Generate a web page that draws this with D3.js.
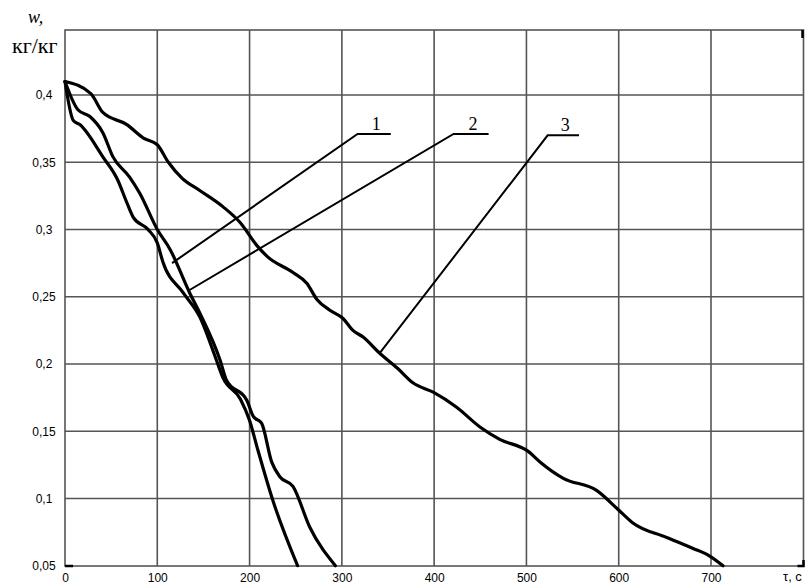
<!DOCTYPE html>
<html>
<head>
<meta charset="utf-8">
<script src="https://cdn.jsdelivr.net/npm/d3@7"></script>
<style>
  html, body { margin: 0; padding: 0; background: #fff; }
  svg { display: block; }
</style>
</head>
<body>
<svg id="chart" width="810" height="584"></svg>
<script>
// ---- data ----
const curve1 = [[0,0.41],[9,0.381],[16,0.378],[41,0.354],[57,0.337],[67,0.320],[74,0.309],[90,0.300],[100,0.290],[106,0.276],[128,0.253],[146,0.235],[164,0.203],[171,0.190],[190,0.174],[200,0.158],[209,0.136],[225,0.099],[252,0.05]];
const curve2 = [[0,0.41],[14,0.389],[27,0.384],[41,0.372],[52,0.354],[70,0.339],[81,0.327],[100,0.300],[114,0.285],[135,0.253],[146,0.238],[168,0.203],[175,0.188],[197,0.173],[204,0.161],[213,0.156],[224,0.127],[233,0.116],[247,0.109],[265,0.079],[293,0.05]];
const curve3 = [[0,0.41],[28,0.401],[41,0.387],[67,0.378],[85,0.368],[100,0.363],[112,0.350],[127,0.338],[146,0.329],[171,0.317],[190,0.305],[208,0.288],[219,0.280],[247,0.268],[262,0.260],[273,0.248],[287,0.240],[301,0.234],[312,0.225],[323,0.220],[341,0.208],[360,0.197],[377,0.186],[399,0.179],[424,0.168],[450,0.153],[471,0.144],[502,0.135],[515,0.127],[540,0.115],[576,0.106],[599,0.092],[615,0.082],[652,0.071],[680,0.063],[699,0.057],[713,0.05]];
const xTicks = [0,100,200,300,400,500,600,700];
const yTicks = [0.05,0.1,0.15,0.2,0.25,0.3,0.35,0.4];
const yTickLabels = ["0,05","0,1","0,15","0,2","0,25","0,3","0,35","0,4"];
const xLabel = "τ, с";
const yLabelTop = "w,";
const yLabelUnit = "кг/кг";
// curve labels: name, label anchor (t,w), shelf end t, point on curve (t,w)
const curveLabels = [
  {name:"1", t0:317, t1:353, w:0.371, pt:116, pw:0.275},
  {name:"2", t0:421, t1:459, w:0.371, pt:135, pw:0.255},
  {name:"3", t0:523, t1:557, w:0.370, pt:341, pw:0.208}
];

// ---- layout ----
const svg = d3.select("#chart");
const pL = 65, pR = 803.5, pT = 30, pB = 566;
const x = d3.scaleLinear().domain([0, 700]).range([65, 711]);
const y = d3.scaleLinear().domain([0.05, 0.4]).range([565.7, 95]);

// grid
const grid = svg.append("g").attr("stroke", "#555").attr("stroke-width", 1.6);
grid.selectAll("line.v").data(xTicks.slice(1)).join("line").attr("class", "v")
  .attr("x1", d => x(d)).attr("x2", d => x(d))
  .attr("y1", pT).attr("y2", pB);
grid.selectAll("line.h").data(yTicks.slice(1)).join("line").attr("class", "h")
  .attr("x1", pL).attr("x2", pR)
  .attr("y1", d => y(d)).attr("y2", d => y(d));
// frame
svg.append("rect").attr("x", pL).attr("y", pT)
  .attr("width", pR - pL).attr("height", pB - pT)
  .attr("fill", "none").attr("stroke", "#555").attr("stroke-width", 1.6);

// small corner marks
const marks = svg.append("g").attr("stroke", "#000").attr("stroke-width", 2.5).attr("fill", "none");
marks.append("line").attr("x1", pL).attr("x2", pL + 8).attr("y1", pB).attr("y2", pB);
marks.append("path").attr("d", `M${pR-6},${pB} H${pR} V${pB-6}`);
marks.append("line").attr("x1", pR - 1).attr("x2", pR - 1).attr("y1", pT).attr("y2", pT + 8);

// axes labels via d3 axes (no lines)
const ax = svg.append("g").attr("transform", `translate(0,${pB})`)
  .call(d3.axisBottom(x).tickValues(xTicks).tickSize(0).tickPadding(0).tickFormat(d3.format("d")));
const ay = svg.append("g").attr("transform", `translate(${pL},0)`)
  .call(d3.axisLeft(y).tickValues(yTicks).tickSize(0).tickPadding(0).tickFormat((d, i) => yTickLabels[i]));
[ax, ay].forEach(a => {
  a.select(".domain").remove();
  a.selectAll("text").attr("font-family", "Liberation Sans, Arial, sans-serif")
    .attr("font-size", 12).attr("fill", "#000");
});
ax.selectAll("text").attr("y", 16).attr("dy", null);
ay.selectAll("text").attr("x", -21).attr("text-anchor", "middle");

svg.append("text").attr("x", 783).attr("y", 581)
  .attr("font-family", "Liberation Sans, Arial, sans-serif").attr("font-size", 13)
  .attr("fill", "#000").text(xLabel);

svg.append("text").attr("x", 28).attr("y", 23)
  .attr("font-family", "Liberation Serif, Times New Roman, serif").attr("font-style", "italic")
  .attr("font-size", 18).attr("fill", "#000").text(yLabelTop);
svg.append("text").attr("x", 12).attr("y", 53)
  .attr("font-family", "Liberation Serif, Times New Roman, serif")
  .attr("font-size", 22).attr("fill", "#000").text(yLabelUnit);

// curves
const line = d3.line().curve(d3.curveMonotoneX).x(d => x(d[0])).y(d => y(d[1]));
svg.append("g").selectAll("path").data([curve1, curve2, curve3]).join("path")
  .attr("d", line).attr("fill", "none").attr("stroke", "#000")
  .attr("stroke-width", 3.2).attr("stroke-linejoin", "round").attr("stroke-linecap", "round");

// leader lines and labels
const lab = svg.append("g");
curveLabels.forEach(c => {
  lab.append("path")
    .attr("d", `M${x(c.pt)},${y(c.pw)} L${x(c.t0)},${y(c.w)} H${x(c.t1)}`)
    .attr("fill", "none").attr("stroke", "#000").attr("stroke-width", 2);
  lab.append("text").attr("x", (x(c.t0) + x(c.t1)) / 2 + 2).attr("y", y(c.w) - 4)
    .attr("text-anchor", "middle")
    .attr("font-family", "Liberation Serif, Times New Roman, serif")
    .attr("font-size", 18).attr("fill", "#000").text(c.name);
});
</script>
</body>
</html>
